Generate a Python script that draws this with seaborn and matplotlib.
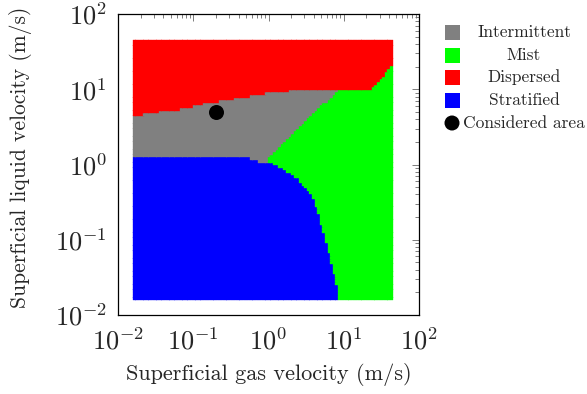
import numpy as np
import pandas as pd
import matplotlib
matplotlib.use("Agg")
import matplotlib.pyplot as plt
import seaborn as sns
from matplotlib.patches import Rectangle, Circle
from matplotlib.ticker import LogLocator, NullFormatter

# ---------------- data ----------------
regimes = ["Intermittent", "Mist", "Dispersed", "Stratified"]
regime_colors = ["#808080", "#00ff00", "#ff0000", "#0000ff"]

# extent of the computed map (log10 of velocity, m/s)
map_log_min = -1.8
map_log_max = 1.65
map_cells = 100

# lower edge of the Dispersed region: log10(U_G) -> log10(U_L)
dispersed_log_ug = [-1.80, -1.588, -1.402, -1.150, -0.870, -0.551, -0.206, -0.007,
                    0.179, 0.445, 0.950, 1.282, 1.380, 1.654]
dispersed_log_ul = [0.649, 0.680, 0.711, 0.738, 0.804, 0.857, 0.914, 0.946,
                    0.967, 0.999, 1.000, 0.980, 1.000, 1.330]

# upper edge of the Stratified region: log10(U_G) -> log10(U_L)
stratified_log_ug = [-1.80, -0.272, -0.240, -0.073, 0.047, 0.193, 0.286, 0.379, 0.458,
                     0.551, 0.618, 0.684, 0.751, 0.791, 0.857, 0.910, 0.924]
stratified_log_ul = [0.096, 0.096, 0.069, 0.033, 0.020, -0.060, -0.126, -0.179, -0.272,
                     -0.379, -0.498, -0.738, -0.937, -1.136, -1.402, -1.600, -1.800]

# left edge of the Mist region: log10(U_L) -> log10(U_G)
mist_log_ul = [-2.0, 0.086, 0.458, 0.724, 1.000]
mist_log_ug = [-0.007, -0.007, 0.379, 0.645, 0.950]

considered_ug = [0.2]
considered_ul = [5.0]

# ---------------- classify the map cells from the boundaries ----------------
d = (map_log_max - map_log_min) / map_cells
centres = np.linspace(map_log_min + d / 2, map_log_max - d / 2, map_cells)
LX, LY = np.meshgrid(centres, centres)
lx, ly = LX.ravel(), LY.ravel()
strat_top = np.interp(lx, stratified_log_ug, stratified_log_ul, right=-np.inf)
disp_bot = np.interp(lx, dispersed_log_ug, dispersed_log_ul)
mist_left = np.interp(ly, mist_log_ul, mist_log_ug)
label = np.where(ly < strat_top, "Stratified",
         np.where(ly > disp_bot, "Dispersed",
          np.where(lx > mist_left, "Mist", "Intermittent")))
df = pd.DataFrame({"ug": 10 ** lx, "ul": 10 ** ly, "regime": label})

# ---------------- plotting ----------------
sns.set_theme(style="white")
plt.rcParams["font.family"] = ["cmr10", "DejaVu Serif"]
plt.rcParams["mathtext.fontset"] = "cm"
plt.rcParams["axes.formatter.use_mathtext"] = True
plt.rcParams["axes.unicode_minus"] = False

W, H = 587, 394
fig = plt.figure(figsize=(W / 100, H / 100), dpi=100)
ax = fig.add_axes([118 / W, 1 - 315 / H, 301 / W, 301 / H])
ax.set_xscale("log")
ax.set_yscale("log")

px_per_dec = 301 / 4
cell_pt = d * px_per_dec * 0.72
sns.scatterplot(data=df, x="ug", y="ul", hue="regime", hue_order=regimes,
                palette=regime_colors, marker="s", s=(cell_pt * 1.12) ** 2,
                linewidth=0.25, edgecolor="face", legend=False, ax=ax, zorder=2)
sns.scatterplot(x=considered_ug, y=considered_ul, color="black", s=(15 * 0.72) ** 2,
                linewidth=0, legend=False, ax=ax, zorder=3)

ax.set_xlim(1e-2, 1e2)
ax.set_ylim(1e-2, 1e2)
for a in (ax.xaxis, ax.yaxis):
    a.set_major_locator(LogLocator(base=10, numticks=10))
    a.set_minor_locator(LogLocator(base=10, subs=np.arange(2, 10), numticks=10))
    a.set_minor_formatter(NullFormatter())
ax.tick_params(which="both", direction="in", top=True, right=True, color="0.4",
               width=0.6, labelsize=19)
ax.tick_params(axis="x", pad=9)
ax.tick_params(axis="y", pad=8)
ax.tick_params(which="major", length=5)
ax.tick_params(which="minor", length=3)
for s in ax.spines.values():
    s.set_color("black")
    s.set_linewidth(0.9)
ax.set_xlabel("Superficial gas velocity (m/s)", fontsize=16, labelpad=6)
ax.set_ylabel("Superficial liquid velocity (m/s)", fontsize=15.5)
ax.yaxis.set_label_coords(-0.285, 0.525)

# legend (pgfplots style: centred text column)
lg = fig.add_axes([0, 0, 1, 1], zorder=10)
lg.set_xlim(0, W)
lg.set_ylim(H, 0)
lg.axis("off")
leg_y = [32.5, 55, 77.5, 100, 123]
for i, (name, c) in enumerate(zip(regimes, regime_colors)):
    lg.add_patch(Rectangle((444.5, leg_y[i] - 7.5), 15, 15, color=c, lw=0))
    lg.text(524, leg_y[i], name, ha="center", va="center", fontsize=12.5)
lg.add_patch(Circle((452, leg_y[4]), 7.5, color="black", lw=0))
lg.text(524, leg_y[4], "Considered area", ha="center", va="center", fontsize=12.5)

fig.savefig("out.png", dpi=100)
